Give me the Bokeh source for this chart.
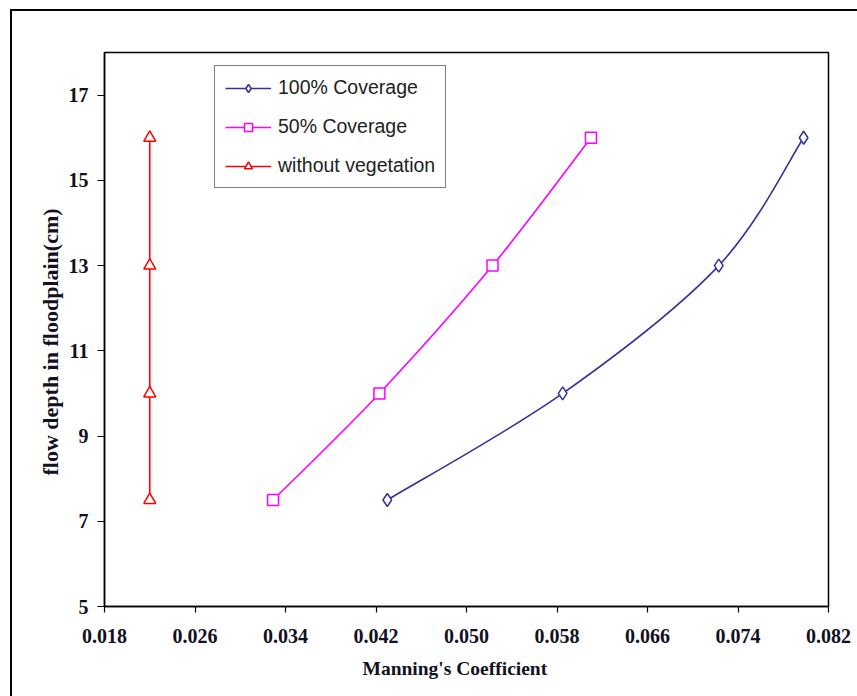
import numpy as np
from bokeh.plotting import figure
from bokeh.models import Legend, LegendItem, FixedTicker, Range1d, Title
from bokeh.embed import file_html
from bokeh.resources import INLINE

# ---- data ----
depth = [7.5, 10, 13, 16]
n_full = [0.0430, 0.0585, 0.0723, 0.0798]     # 100% Coverage
n_half = [0.0329, 0.0423, 0.0523, 0.0610]     # 50% Coverage
n_none = [0.0220, 0.0220, 0.0220, 0.0220]     # without vegetation
series_labels = ["100% Coverage", "50% Coverage", "without vegetation"]
x_ticks = [0.018, 0.026, 0.034, 0.042, 0.050, 0.058, 0.066, 0.074, 0.082]
y_ticks = [5, 7, 9, 11, 13, 15, 17]
x_title = "Manning's Coefficient"
y_title = "flow depth in floodplain(cm)"

SERIF = "Liberation Serif"
SANS = "Liberation Sans"
TXT = "#111122"

# outer page frame drawn as a CSS background (its right/bottom edges lie off-picture)
page_frame = {
    "background-color": "white",
    "background-image": "linear-gradient(#000,#000), linear-gradient(#000,#000)",
    "background-size": "2px 100%, 100% 2px",
    "background-position": "10px 9px, 10px 9px",
    "background-repeat": "no-repeat",
}

p = figure(width=857, height=696, output_backend="svg", toolbar_location=None,
           x_range=Range1d(0.018, 0.082), y_range=Range1d(5, 18),
           min_border_left=104, min_border_top=52, min_border_right=29,
           min_border_bottom=90, border_fill_color=None,
           background_fill_color="white", styles=page_frame)
p.grid.visible = False
p.outline_line_color = "black"
p.outline_line_width = 1.5

for ax in (p.xaxis[0], p.yaxis[0]):
    ax.axis_line_color = "black"
    ax.axis_line_width = 1.5
    ax.major_tick_line_color = "black"
    ax.major_tick_line_width = 1.2
    ax.major_tick_in = 0
    ax.minor_tick_line_color = None
    ax.major_label_text_font = SERIF
    ax.major_label_text_font_style = "bold"
    ax.major_label_text_font_size = "20px"
    ax.major_label_text_color = TXT

p.xaxis.ticker = FixedTicker(ticks=x_ticks)
p.xaxis.major_label_overrides = {t: f"{t:.3f}" for t in x_ticks}
p.xaxis.major_tick_out = 6
p.xaxis.major_label_standoff = 16

p.yaxis.ticker = FixedTicker(ticks=y_ticks)
p.yaxis.major_label_overrides = {t: str(t) for t in y_ticks}
p.yaxis.major_tick_out = 7
p.yaxis.major_label_standoff = 9

# axis titles (slightly off-centre in the original)
xt = Title(text=x_title, align="left", offset=258, standoff=21,
           text_font=SERIF, text_font_style="bold", text_font_size="19.5px",
           text_color=TXT)
p.add_layout(xt, "below")
yt = Title(text=y_title, align="left", offset=131, standoff=5,
           text_font=SERIF, text_font_style="bold", text_font_size="22px",
           text_color=TXT)
p.add_layout(yt, "left")


def smooth(xs, ys):
    P = np.column_stack([xs, ys]).astype(float)
    n = len(P)
    x0, y0, x1, y1, cx0, cy0, cx1, cy1 = ([] for _ in range(8))
    for i in range(n - 1):
        prev = P[i - 1] if i > 0 else P[i]
        nxt = P[i + 2] if i + 2 < n else P[i + 1]
        c0 = P[i] + (P[i + 1] - prev) / 6.0
        c1 = P[i + 1] - (nxt - P[i]) / 6.0
        x0.append(P[i, 0]); y0.append(P[i, 1])
        x1.append(P[i + 1, 0]); y1.append(P[i + 1, 1])
        cx0.append(c0[0]); cy0.append(c0[1])
        cx1.append(c1[0]); cy1.append(c1[1])
    return dict(x0=x0, y0=y0, x1=x1, y1=y1, cx0=cx0, cy0=cy0, cx1=cx1, cy1=cy1)


specs = [
    (n_full, "#333399", dict(marker="diamond", size=13)),
    (n_half, "#FF00FF", dict(marker="square", size=11)),
    (n_none, "#FF0000", dict(marker="triangle", size=12)),
]

items = []
for (xs, color, mk), label in zip(specs, series_labels):
    b = p.bezier(line_color=color, line_width=1.6, **smooth(xs, depth))
    s = p.scatter(xs, depth, marker=mk["marker"], size=mk["size"],
                  line_color=color, fill_color="white", line_width=1.5)
    items.append(LegendItem(label=label, renderers=[b, s]))

legend = Legend(items=items, location=(110, 418), orientation="vertical",
                glyph_width=46, glyph_height=20, label_height=20,
                label_standoff=7, spacing=16, padding=10, margin=0,
                label_text_font=SANS, label_text_font_size="19.5px",
                label_text_color="#222222",
                border_line_color="black", border_line_width=1.5,
                background_fill_color="white", background_fill_alpha=1.0)
p.add_layout(legend, "center")

open("out.html", "w").write(file_html(p, INLINE))
